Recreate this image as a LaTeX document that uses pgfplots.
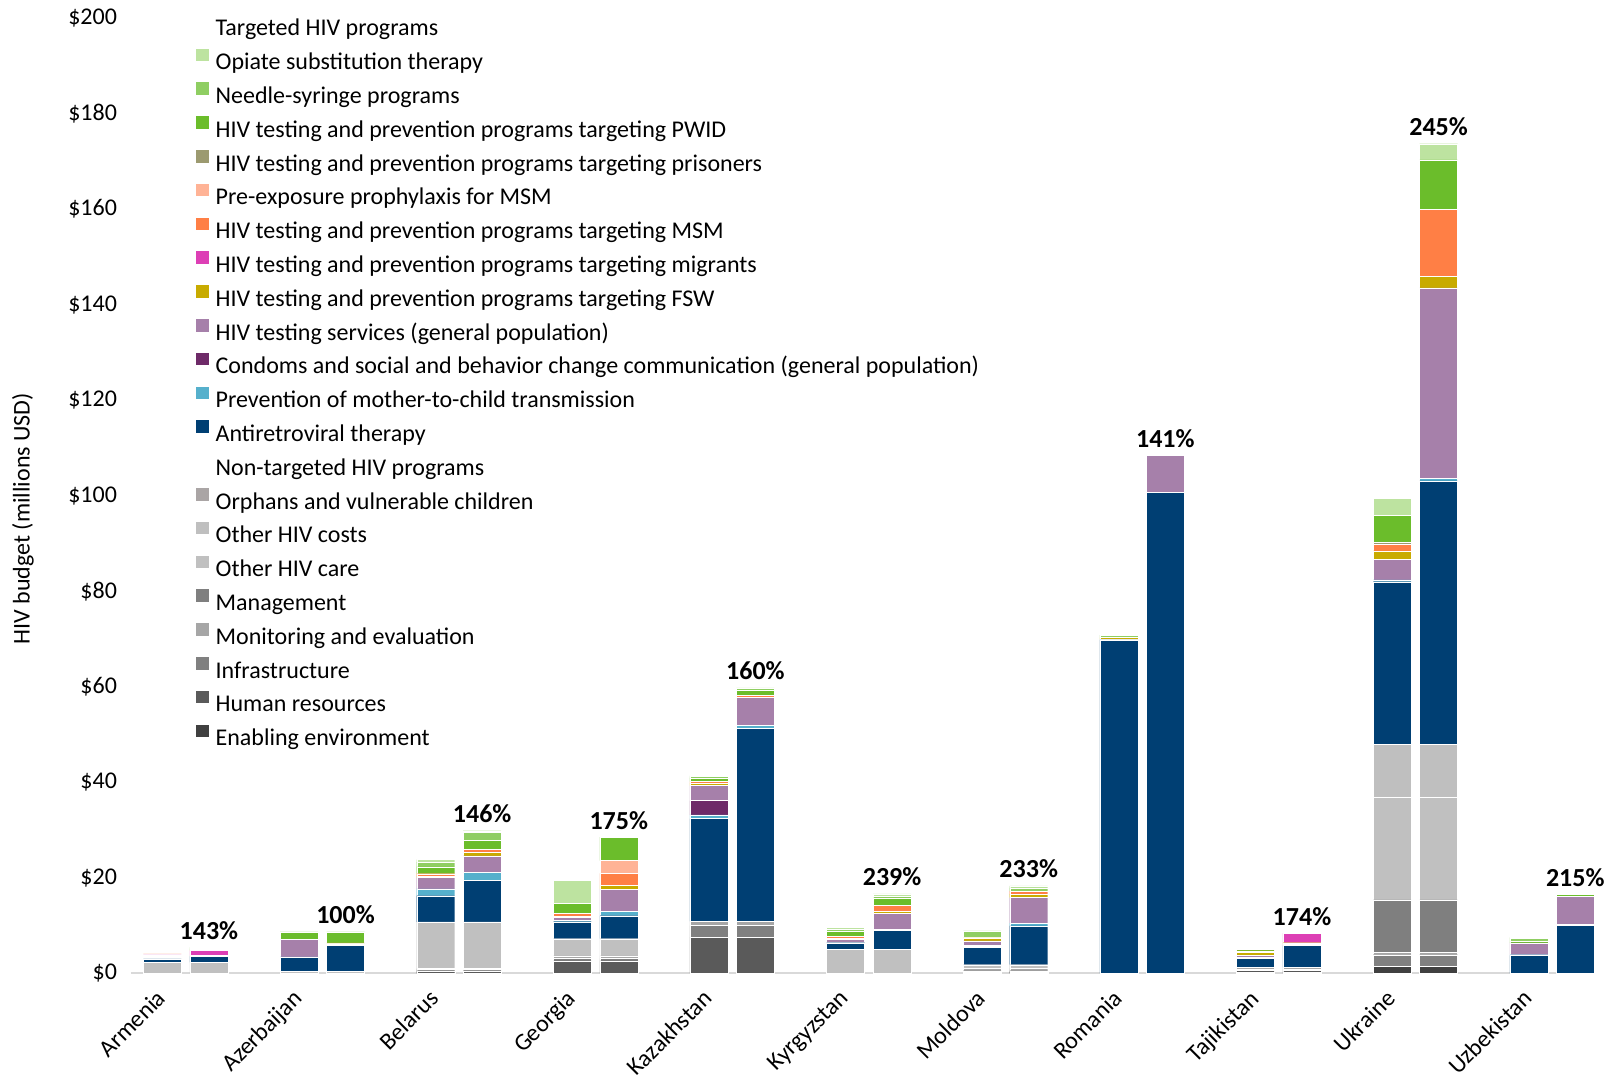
\documentclass[border=0pt]{standalone}
\usepackage{fontspec}
\setmainfont{Carlito}
\usepackage{pgfplots}
\usepackage{pgfplotstable}
\pgfplotsset{compat=1.18}

\definecolor{cost}{HTML}{BDE3A0}
\definecolor{cnsp}{HTML}{8FCE62}
\definecolor{cpwid}{HTML}{6BBD2B}
\definecolor{cpris}{HTML}{9C9A70}
\definecolor{cprep}{HTML}{FFB396}
\definecolor{cmsm}{HTML}{FF7F45}
\definecolor{cmig}{HTML}{DD3FB5}
\definecolor{cfsw}{HTML}{C8AB00}
\definecolor{chts}{HTML}{A680AA}
\definecolor{ccond}{HTML}{6E2A68}
\definecolor{cpmtct}{HTML}{56B0CC}
\definecolor{cart}{HTML}{003F73}
\definecolor{corph}{HTML}{AAA5A5}
\definecolor{ccosts}{HTML}{BFBFBF}
\definecolor{ccare}{HTML}{C0C0C0}
\definecolor{cmgmt}{HTML}{7F7F7F}
\definecolor{cme}{HTML}{A6A6A6}
\definecolor{cinfra}{HTML}{808080}
\definecolor{chr}{HTML}{5A5A5A}
\definecolor{cenv}{HTML}{404040}

% one row per bar: current (i-0.17) and optimized (i+0.17)
\pgfplotstableread{
x     env  hr   infra me   mgmt care costs orph art    pmtct cond hts  fsw  mig  msm  prep pris pwid nsp  ost
-0.17 0    0    0     0    0    2.3  0     0    0.7    0.2   0    0.2  0.2  0.25 0.2  0    0    0.2  0.15 0.15
0.17  0    0    0     0    0    2.3  0     0    1.25   0.05  0    0.1  0.05 1.0  0.1  0    0    0.15 0.2  0.3
0.83  0    0    0     0    0    0.4  0     0    3.0    0.05  0    3.6  0    0    0    0    0    1.6  0    0
1.17  0    0    0     0    0    0.4  0     0    5.4    0.05  0    0    0.3  0    0.2  0    0    2.3  0    0
1.83  0    0.55 0.25  0.25 0    9.7  0     0    5.5    1.45  0    2.4  0.2  0    0.55 0    0    1.45 1.0  0.5
2.17  0    0.55 0.25  0.25 0    9.7  0     0    8.65   1.7   0    3.5  0.75 0    0.55 0    0    1.95 1.6  0.4
2.83  0    2.6  0.5   0.55 0    3.6  0     0    3.55   0.35  0    0.6  0.2  0    0.55 0    0    2.15 0    4.8
3.17  0    2.6  0.5   0.55 0    3.6  0     0    4.8    0.9   0    4.7  0.75 0    2.5  2.7  0    4.9  0    0
3.83  0    7.55 2.45  0.85 0    0    0     0    21.55  0.75  3.0  3.15 0.5  0    0.35 0    0    0.7  0.35 0.2
4.17  0    7.55 2.45  0.85 0    0    0     0    40.4   0.65  0    5.85 0    0    0.4  0    0    1.05 0.4  0.15
4.83  0    0    0     0    0    5.0  0     0    1.4    0.1   0    0.6  0.2  0    0.5  0    0    0.95 0.5  0.4
5.17  0    0    0     0    0    5.0  0     0    4.05   0.15  0    3.4  0.4  0    1.2  0    0    1.6  0.35 0.5
5.83  0.25 0.3  0     0.5  0    0.75 0     0    3.6    0.2   0.3  0.9  0.6  0    0.1  0    0    0    1.4  0
6.17  0.25 0.3  0     0.5  0    0.75 0     0    8.15   0.55  0    5.35 0.75 0    0.6  0    0    0    0.7  0.4
6.83  0    0    0     0    0    0    0     0    69.8   0.1   0    0    0.4  0    0    0    0    0    0.5  0
7.17  0    0    0     0    0    0    0     0    100.7  0     0    7.8  0    0    0    0    0    0    0    0
7.83  0.3  0.3  0.3   0.35 0    0    0     0    1.9    0.15  0    0.5  0.6  0    0.3  0    0    0.35 0    0
8.17  0.3  0.3  0.3   0.35 0    0    0     0    4.6    0.15  0    0    0.4  1.95 0    0    0    0    0    0
8.83  1.4  0    2.5   0.55 10.9 21.5 11.1  0    34.05  0.4   0    4.3  1.75 0    1.4  0    0.35 5.7  0    3.5
9.17  1.4  0    2.5   0.55 10.9 21.5 11.1  0    55.15  0.5   0    39.9 2.4  0    14.0 0    0    10.4 0    3.4
9.83  0    0    0     0    0    0    0     0    3.75   0.15  0    2.45 0    0    0    0    0    0.3  0.7  0.2
10.17 0    0    0     0    0    0    0     0    10.1   0.1   0    5.95 0    0    0    0    0    0.4  0    0
}\budget

\tikzset{pct/.style={anchor=base, yshift=4bp, inner sep=0pt,
    font=\fontsize{13bp}{15bp}\selectfont\bfseries}}

\begin{document}
\begin{tikzpicture}
\begin{axis}[
    scale only axis,
    width=731bp, height=477.6bp,
    ybar stacked,
    bar width=0.278,
    xmin=-0.4, xmax=10.3,
    ymin=0, ymax=200,
    clip=false,
    axis x line*=bottom,
    axis y line*=left,
    x axis line style={draw=black!15, line width=1bp},
    y axis line style={draw=none},
    major tick length=0pt,
    xtick={0,...,10},
    xticklabels={Armenia,Azerbaijan,Belarus,Georgia,Kazakhstan,Kyrgyzstan,Moldova,Romania,Tajikistan,Ukraine,Uzbekistan},
    xticklabel style={rotate=45, anchor=north east, inner sep=0pt, xshift=-15.8bp, yshift=5.6bp,
        font=\fontsize{12bp}{14bp}\selectfont},
    ytick={0,20,...,200},
    yticklabel={\$\pgfmathparse{int(\tick)}\pgfmathresult},
    yticklabel style={xshift=-3.5bp, font=\fontsize{12bp}{14bp}\selectfont},
    ylabel={HIV budget (millions USD)},
    ylabel style={at={(axis description cs:-0.074,0.476)}, anchor=center,
        font=\fontsize{12bp}{14bp}\selectfont},
    every axis plot post/.append style={draw=white, line width=0.15bp,
        legend image code/.code={\path[##1,draw=none] (0bp,0.7bp) rectangle (6.3bp,7bp);}},
    reverse legend,
    legend cell align=left,
    legend style={draw=none, fill=none, inner sep=0pt, outer sep=0pt,
        at={(rel axis cs:0.0445,1)}, yshift=3.1bp, anchor=north west,
        row sep=0pt, column sep=3.5bp,
        nodes={inner sep=0pt, text height=11.95bp, text depth=4.95bp},
        font=\fontsize{12bp}{14bp}\selectfont},
]
\addplot[fill=cenv]   table[x=x,y=env]   {\budget}; \addlegendentry{Enabling environment}
\addplot[fill=chr]    table[x=x,y=hr]    {\budget}; \addlegendentry{Human resources}
\addplot[fill=cinfra] table[x=x,y=infra] {\budget}; \addlegendentry{Infrastructure}
\addplot[fill=cme]    table[x=x,y=me]    {\budget}; \addlegendentry{Monitoring and evaluation}
\addplot[fill=cmgmt]  table[x=x,y=mgmt]  {\budget}; \addlegendentry{Management}
\addplot[fill=ccare]  table[x=x,y=care]  {\budget}; \addlegendentry{Other HIV care}
\addplot[fill=ccosts] table[x=x,y=costs] {\budget}; \addlegendentry{Other HIV costs}
\addplot[fill=corph]  table[x=x,y=orph]  {\budget}; \addlegendentry{Orphans and vulnerable children}
\addlegendimage{draw=none,fill=none} \addlegendentry{Non-targeted HIV programs}
\addplot[fill=cart]   table[x=x,y=art]   {\budget}; \addlegendentry{Antiretroviral therapy}
\addplot[fill=cpmtct] table[x=x,y=pmtct] {\budget}; \addlegendentry{Prevention of mother-to-child transmission}
\addplot[fill=ccond]  table[x=x,y=cond]  {\budget}; \addlegendentry{Condoms and social and behavior change communication (general population)}
\addplot[fill=chts]   table[x=x,y=hts]   {\budget}; \addlegendentry{HIV testing services (general population)}
\addplot[fill=cfsw]   table[x=x,y=fsw]   {\budget}; \addlegendentry{HIV testing and prevention programs targeting FSW}
\addplot[fill=cmig]   table[x=x,y=mig]   {\budget}; \addlegendentry{HIV testing and prevention programs targeting migrants}
\addplot[fill=cmsm]   table[x=x,y=msm]   {\budget}; \addlegendentry{HIV testing and prevention programs targeting MSM}
\addplot[fill=cprep]  table[x=x,y=prep]  {\budget}; \addlegendentry{Pre-exposure prophylaxis for MSM}
\addplot[fill=cpris]  table[x=x,y=pris]  {\budget}; \addlegendentry{HIV testing and prevention programs targeting prisoners}
\addplot[fill=cpwid]  table[x=x,y=pwid]  {\budget}; \addlegendentry{HIV testing and prevention programs targeting PWID}
\addplot[fill=cnsp]   table[x=x,y=nsp]   {\budget}; \addlegendentry{Needle-syringe programs}
\addplot[fill=cost]   table[x=x,y=ost]   {\budget}; \addlegendentry{Opiate substitution therapy}
\addlegendimage{draw=none,fill=none} \addlegendentry{Targeted HIV programs}

% percentage labels above the optimized bars
\node[pct] at (axis cs:0.17,5.5)    {143\%};
\node[pct] at (axis cs:1.17,8.65)   {100\%};
\node[pct] at (axis cs:2.17,29.85)  {146\%};
\node[pct] at (axis cs:3.17,28.5)   {175\%};
\node[pct] at (axis cs:4.17,59.75)  {160\%};
\node[pct] at (axis cs:5.17,16.65)  {239\%};
\node[pct] at (axis cs:6.17,18.3)   {233\%};
\node[pct] at (axis cs:7.17,108.5)  {141\%};
\node[pct] at (axis cs:8.17,8.35)   {174\%};
\node[pct] at (axis cs:9.17,173.7)  {245\%};
\node[pct] at (axis cs:10.17,16.55) {215\%};
\end{axis}
\pgfresetboundingbox
\path[use as bounding box] (-65.5bp,-52.85bp) rectangle (741.5bp,486.65bp);
\end{tikzpicture}
\end{document}
